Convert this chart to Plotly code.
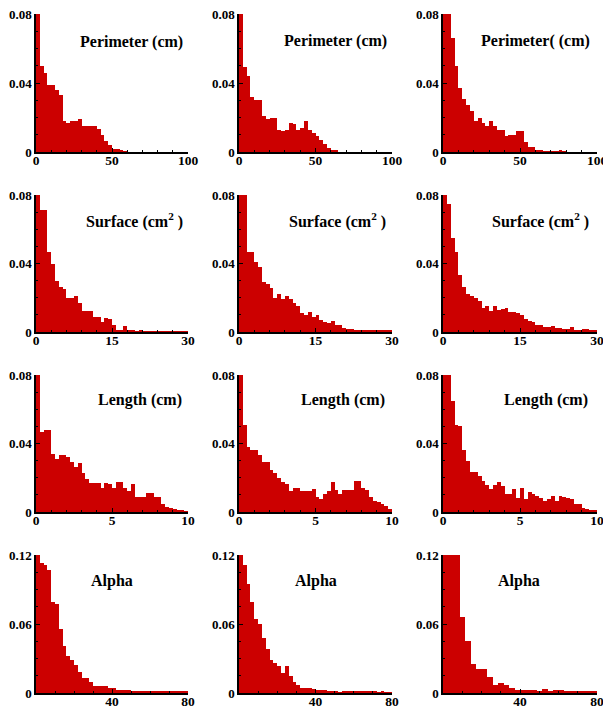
import numpy as np
import plotly.graph_objects as go
from plotly.subplots import make_subplots

# ---------------- data (bin densities) ----------------
perimeter_1 = [0.09, 0.05, 0.046, 0.039, 0.039, 0.036, 0.033, 0.018, 0.017, 0.018,
               0.018, 0.019, 0.015, 0.015, 0.015, 0.015, 0.0135, 0.010, 0.0065, 0.004,
               0.0016, 0.0016, 0.0006, 0.0003, 0, 0, 0, 0, 0, 0,
               0, 0, 0, 0, 0, 0, 0, 0, 0, 0]
perimeter_2 = [0.09, 0.0495, 0.044, 0.032, 0.030, 0.030, 0.021, 0.019, 0.020, 0.020,
               0.013, 0.012, 0.013, 0.017, 0.016, 0.013, 0.014, 0.018, 0.013, 0.011,
               0.0095, 0.007, 0.0048, 0.0025, 0.0012, 0.0006, 0, 0, 0, 0,
               0, 0, 0, 0, 0, 0, 0, 0, 0, 0]
perimeter_3 = [0.09, 0.085, 0.066, 0.05, 0.037, 0.031, 0.027, 0.024, 0.018, 0.020,
               0.017, 0.015, 0.018, 0.015, 0.013, 0.013, 0.009, 0.010, 0.010, 0.012,
               0.012, 0.0056, 0.003, 0.003, 0.0013, 0.0008, 0.0005, 0.0005, 0.0004, 0.0004,
               0.0008, 0.0003, 0, 0, 0, 0, 0, 0, 0, 0]

surface_1 = [0.09, 0.071, 0.071, 0.047, 0.040, 0.030, 0.026, 0.025, 0.020, 0.020,
             0.021, 0.017, 0.012, 0.012, 0.0125, 0.009, 0.009, 0.006, 0.008, 0.0075,
             0.004, 0.0014, 0.0014, 0.0037, 0.0014, 0.0012, 0.0004, 0.0008, 0.0004, 0.0003,
             0.0003, 0.0002, 0.0002, 0.0002, 0.0002, 0.0001, 0.0001, 0.0001, 0.0001, 0.0001]
surface_2 = [0.09, 0.09, 0.047, 0.047, 0.041, 0.038, 0.029, 0.028, 0.0255, 0.020,
             0.022, 0.019, 0.021, 0.019, 0.017, 0.015, 0.011, 0.010, 0.0116, 0.0085,
             0.010, 0.0071, 0.006, 0.0052, 0.0062, 0.004, 0.0039, 0.0025, 0.0019, 0.0019,
             0.0012, 0.0008, 0.0008, 0.0008, 0.0008, 0.0008, 0.0008, 0.0008, 0.001, 0.0006]
surface_3 = [0.09, 0.0746, 0.055, 0.047, 0.033, 0.026, 0.022, 0.021, 0.020, 0.018,
             0.014, 0.015, 0.012, 0.015, 0.013, 0.0135, 0.014, 0.0117, 0.0117, 0.011,
             0.010, 0.0075, 0.0065, 0.0058, 0.0043, 0.004, 0.0027, 0.003, 0.0033, 0.0023,
             0.0023, 0.0019, 0.002, 0.0031, 0.0012, 0.0012, 0.0019, 0.0019, 0.001, 0.001]

length_1 = [0.09, 0.047, 0.048, 0.048, 0.034, 0.031, 0.0335, 0.033, 0.032, 0.029,
            0.0265, 0.0285, 0.0226, 0.019, 0.0168, 0.0168, 0.0168, 0.0139, 0.0168, 0.0165,
            0.0139, 0.0174, 0.0174, 0.0143, 0.012, 0.0165, 0.009, 0.009, 0.0085, 0.011,
            0.011, 0.009, 0.009, 0.0045, 0.003, 0.0023, 0.0015, 0.0008, 0.0008, 0.0005]
length_2 = [0.09, 0.051, 0.038, 0.036, 0.036, 0.033, 0.029, 0.029, 0.0246, 0.0227,
            0.0197, 0.0174, 0.0162, 0.0124, 0.0139, 0.0139, 0.012, 0.012, 0.012, 0.0135,
            0.0085, 0.0077, 0.0104, 0.0124, 0.0174, 0.013, 0.0104, 0.013, 0.013, 0.013,
            0.0182, 0.0182, 0.0143, 0.013, 0.009, 0.0062, 0.0058, 0.0045, 0.0033, 0.0019]
length_3 = [0.09, 0.09, 0.065, 0.0506, 0.050, 0.036, 0.030, 0.0236, 0.0236, 0.0208,
            0.018, 0.0159, 0.0135, 0.016, 0.0174, 0.015, 0.0104, 0.0104, 0.0135, 0.0081,
            0.0139, 0.0077, 0.0116, 0.0105, 0.0091, 0.0081, 0.0066, 0.0075, 0.0091, 0.0066,
            0.0091, 0.0085, 0.0081, 0.0077, 0.0046, 0.0046, 0.0023, 0.0015, 0.0008, 0.0008]

alpha_1 = [0.12, 0.113, 0.111, 0.107, 0.0795, 0.0775, 0.0555, 0.0405, 0.0318, 0.0283,
           0.0246, 0.018, 0.013, 0.013, 0.010, 0.0064, 0.0058, 0.0064, 0.0064, 0.0043,
           0.0043, 0.0023, 0.0023, 0.0023, 0.0023, 0.0017, 0.0012, 0.0012, 0.0017, 0.0012,
           0.0015, 0.0012, 0.0012, 0.0015, 0.0012, 0.0010, 0.0012, 0.0010, 0.0010, 0.0012]
alpha_2 = [0.12, 0.111, 0.095, 0.0795, 0.064, 0.060, 0.0477, 0.038, 0.0283, 0.026,
           0.0231, 0.0173, 0.0231, 0.015, 0.010, 0.0072, 0.0043, 0.0043, 0.0043, 0.0035,
           0.0023, 0.0023, 0.0023, 0.0017, 0.0012, 0.0012, 0.0006, 0.0012, 0.0012, 0.0012,
           0.0015, 0.0012, 0.0012, 0.0012, 0.0015, 0.0010, 0.0008, 0.0010, 0.0008, 0.0006]
alpha_3 = [0.13, 0.13, 0.13, 0.066, 0.045, 0.0252, 0.0208, 0.0208, 0.0139, 0.0072,
           0.0087, 0.0072, 0.0043, 0.0023, 0.0023, 0.0023, 0.0023, 0.0014, 0.0035, 0.0012,
           0.0023, 0.0023, 0.0014, 0.0017, 0.0012, 0.0017, 0.0017, 0.0017]

titles = [["Perimeter (cm)", "Perimeter (cm)", "Perimeter( (cm)"],
          ["Surface (cm<sup>2</sup> )"] * 3,
          ["Length (cm)"] * 3,
          ["Alpha"] * 3]
series = [[perimeter_1, perimeter_2, perimeter_3],
          [surface_1, surface_2, surface_3],
          [length_1, length_2, length_3],
          [alpha_1, alpha_2, alpha_3]]
x_max = [100, 30, 10, 80]
x_ticks = [[0, 50, 100], [0, 15, 30], [0, 5, 10], [40, 80]]
x_minor = [10, 3, 1, 10]
y_max = [0.08, 0.08, 0.08, 0.12]
y_ticks = [[0, 0.04, 0.08], [0, 0.04, 0.08], [0, 0.04, 0.08], [0, 0.06, 0.12]]
y_tick_text = [["0", "0.04", "0.08"]] * 3 + [["0", "0.06", "0.12"]]
y_minor = [0.01, 0.01, 0.01, 0.015]

# ---------------- layout geometry (pixels) ----------------
W, H = 603, 710
col_px = [(36, 188), (239, 392), (443, 597)]
row_px = [(14, 152), (195, 332), (375, 512), (555, 693)]
title_pos = [[(131, 42), (335, 41), (535, 41)],
             [(134, 220), (337, 220), (540, 220)],
             [(140, 400), (343, 400), (546, 400)],
             [(112, 581), (316, 581), (519, 581)]]

RED = "#CC0000"
FONT = "Liberation Serif"

fig = make_subplots(rows=4, cols=3)

for r in range(4):
    for c in range(3):
        vals = np.array(series[r][c], dtype=float)
        n = len(vals)
        bw = x_max[r] / n
        centers = (np.arange(n) + 0.5) * bw
        fig.add_trace(go.Bar(x=centers, y=vals, width=bw,
                             marker=dict(color=RED, line=dict(width=0)),
                             showlegend=False, hoverinfo="skip"),
                      row=r + 1, col=c + 1)
        idx = r * 3 + c + 1
        xa = "xaxis" if idx == 1 else f"xaxis{idx}"
        ya = "yaxis" if idx == 1 else f"yaxis{idx}"
        x0, x1 = col_px[c]
        y0, y1 = row_px[r]
        fig.layout[xa].update(
            domain=[x0 / W, x1 / W], range=[0, x_max[r]], automargin=False,
            tickvals=x_ticks[r], ticktext=[str(v) for v in x_ticks[r]],
            ticks="inside", ticklen=4, tickwidth=1, tickcolor="black",
            minor=dict(dtick=x_minor[r], ticks="inside", ticklen=2, tickcolor="black"),
            showline=True, linecolor="black", linewidth=1.5,
            showgrid=False, zeroline=False, ticklabeloverflow="allow",
            ticklabelstandoff=-5,
            tickfont=dict(family=FONT, size=13.5, color="black", weight="bold"))
        fig.layout[ya].update(
            domain=[1 - y1 / H, 1 - y0 / H], range=[0, y_max[r]], automargin=False,
            tickvals=y_ticks[r], ticktext=y_tick_text[r],
            ticks="inside", ticklen=4, tickwidth=1, tickcolor="black",
            minor=dict(dtick=y_minor[r], ticks="inside", ticklen=2, tickcolor="black"),
            showline=True, linecolor="black", linewidth=1.5,
            showgrid=False, zeroline=False, ticklabeloverflow="allow",
            tickfont=dict(family=FONT, size=13, color="black", weight="bold"))
        tx, ty = title_pos[r][c]
        fig.add_annotation(x=tx / W, y=1 - ty / H, xref="paper", yref="paper",
                           text=titles[r][c], showarrow=False,
                           xanchor="center", yanchor="middle",
                           font=dict(family=FONT, size=16, color="black", weight="bold"))

fig.update_layout(width=W, height=H, margin=dict(l=0, r=0, t=0, b=0, autoexpand=False),
                  paper_bgcolor="white", plot_bgcolor="white", bargap=0)

# remove the default page margin so the figure sits at the window's top-left corner
fig.write_html("out.html", config={"displayModeBar": False},
               post_script="document.body.style.margin='0';document.body.style.overflow='hidden';")
